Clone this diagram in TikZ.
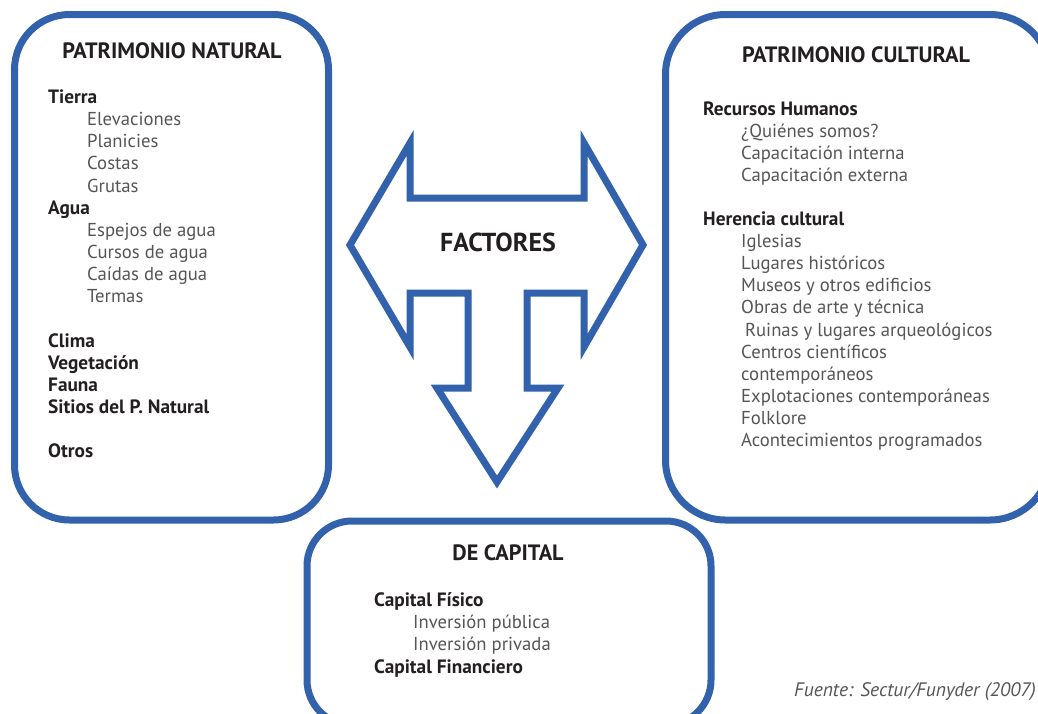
\documentclass[tikz,border=0pt]{standalone}
\usepackage{fontspec}
\setmainfont{PT Sans}
\usepackage{tikz}
\definecolor{marco}{RGB}{50,98,172}
\definecolor{tinta}{RGB}{35,31,32}
\definecolor{gris}{RGB}{85,85,85}
\tikzset{
  panel/.style={draw=marco, line width=7pt, inner sep=0pt},
  titulo/.style={font=\fontsize{22.2}{24}\selectfont\bfseries, text=tinta, anchor=base, inner sep=0pt},
  grupo/.style={font=\fontsize{19.3}{22}\selectfont\bfseries, text=tinta, anchor=base west, inner sep=0pt},
  item/.style={font=\fontsize{18.7}{22}\selectfont, text=gris, anchor=base west, inner sep=0pt},
}

\begin{document}
\begin{tikzpicture}[x=1pt,y=-1pt]
			\clip (0,0) rectangle (1038,713);
			\fill[white] (0,0) rectangle (1038,713);
			% recuadros
			\node[panel, rounded corners=55pt, minimum width=314pt, minimum height=505.5pt] (natural) at (171.5,267.25) {};
			\node[panel, rounded corners=60pt, minimum width=384.5pt, minimum height=505.5pt] (cultural) at (857.75,267.25) {};
			\node[panel, rounded corners=45pt, minimum width=404pt, minimum height=204pt] (capital) at (509,623) {};
			% flecha de factores
			\draw[marco, line width=7pt, line join=miter] (350,245) -- (410,143) -- (410,198) -- (584,198) -- (584,143) -- (643,245)
				-- (584,347) -- (584,293) -- (527,293) -- (527,388) -- (558,388) -- (497,482) -- (437,388) -- (468,388)
				-- (468,293) -- (410,293) -- (410,347) -- cycle;
			\node[font=\fontsize{26}{28}\selectfont\bfseries, text=tinta, anchor=base, inner sep=0pt] (factores) at (498,251.5) {FACTORES};
			% patrimonio natural
			\node[titulo] (t-natural) at (172,58.3) {PATRIMONIO NATURAL};
			\node[grupo] (tierra) at (48,103.5) {Tierra};
			\node[item] (elevaciones) at (87,125.6) {Elevaciones};
			\node[item] (planicies) at (87,147.8) {Planicies};
			\node[item] (costas) at (87,169.9) {Costas};
			\node[item] (grutas) at (87,192.1) {Grutas};
			\node[grupo] (agua) at (48,214.2) {Agua};
			\node[item] (espejos) at (87,236.4) {Espejos de agua};
			\node[item] (cursos) at (87,258.5) {Cursos de agua};
			\node[item] (caidas) at (87,280.7) {Caídas de agua};
			\node[item] (termas) at (87,302.8) {Termas};
			\node[grupo] (clima) at (48,347.1) {Clima};
			\node[grupo] (vegetacion) at (48,369.3) {Vegetación};
			\node[grupo] (fauna) at (48,391.4) {Fauna};
			\node[grupo] (sitios) at (48,413.6) {Sitios del P. Natural};
			\node[grupo] (otros) at (48,457.9) {Otros};
			% patrimonio cultural
			\node[titulo] (t-cultural) at (856,62.7) {PATRIMONIO CULTURAL};
			\node[grupo] (humanos) at (703,115) {Recursos Humanos};
			\node[item] (quienes) at (741,137.1) {¿Quiénes somos?};
			\node[item] (interna) at (741,159.2) {Capacitación interna};
			\node[item] (externa) at (741,181.3) {Capacitación externa};
			\node[grupo] (herencia) at (703,225.5) {Herencia cultural};
			\node[item] (iglesias) at (741,247.6) {Iglesias};
			\node[item] (lugares) at (741,269.7) {Lugares históricos};
			\node[item] (museos) at (741,291.8) {Museos y otros edificios};
			\node[item] (obras) at (741,313.9) {Obras de arte y técnica};
			\node[item] (ruinas) at (745,336) {Ruinas y lugares arqueológicos};
			\node[item] (centros) at (741,358.1) {Centros científicos};
			\node[item] (contemp) at (741,380.2) {contemporáneos};
			\node[item] (explot) at (741,402.3) {Explotaciones contemporáneas};
			\node[item] (folklore) at (741,424.4) {Folklore};
			\node[item] (aconte) at (741,446.5) {Acontecimientos programados};
			% de capital
			\node[titulo] (t-capital) at (508,560) {DE CAPITAL};
			\node[grupo] (fisico) at (374,606.7) {Capital Físico};
			\node[item] (publica) at (413,628.8) {Inversión pública};
			\node[item] (privada) at (413,650.9) {Inversión privada};
			\node[grupo] (financiero) at (374,673) {Capital Financiero};
			% fuente
			\node[font=\fontsize{19.5}{21}\selectfont\itshape, text=gris, anchor=base west, inner sep=0pt] (fuente) at (794,696) {Fuente: Sectur/Funyder (2007)};
		\end{tikzpicture}
\end{document}
